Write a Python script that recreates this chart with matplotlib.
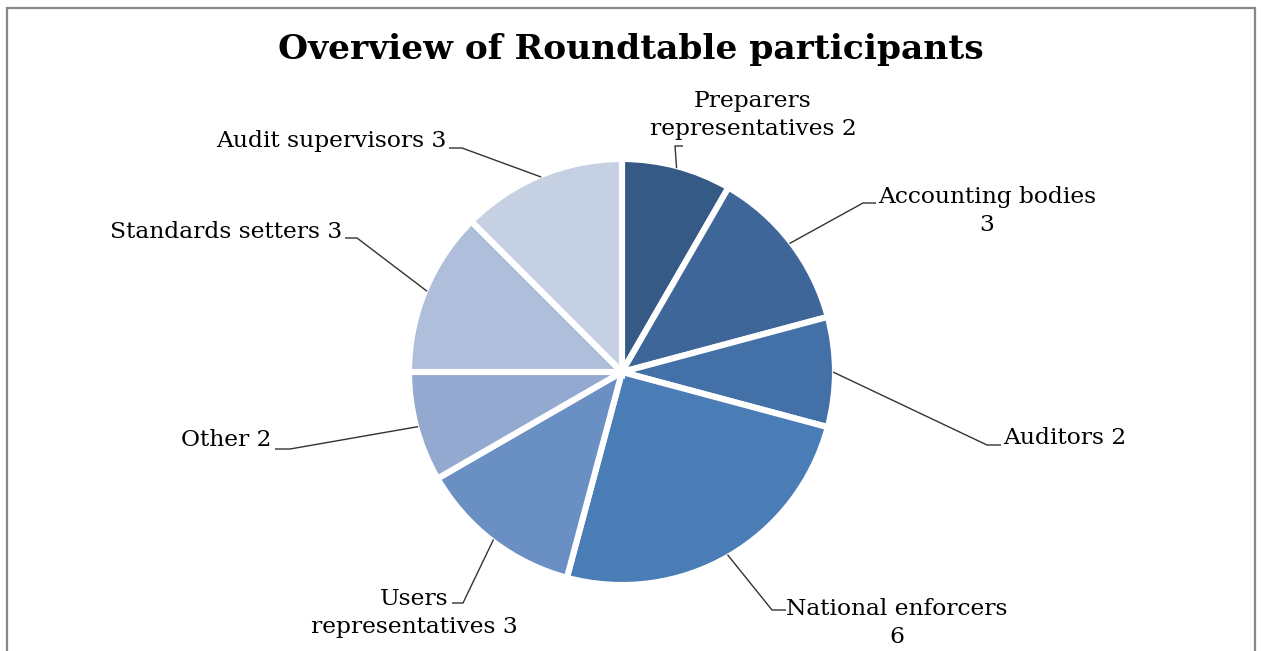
import matplotlib
matplotlib.use("Agg")
import matplotlib.pyplot as plt
import numpy as np
from matplotlib.patches import Rectangle

# ---- data ----
categories = ["Preparers representatives", "Accounting bodies", "Auditors",
              "National enforcers", "Users representatives", "Other",
              "Standards setters", "Audit supervisors"]
values = [2, 3, 2, 6, 3, 2, 3, 3]
label_texts = ["Preparers\nrepresentatives 2", "Accounting bodies\n3", "Auditors 2",
               "National enforcers\n6", "Users\nrepresentatives 3", "Other 2",
               "Standards setters 3", "Audit supervisors 3"]
title = "Overview of Roundtable participants"

colors = ["#365A86", "#3E6699", "#4371A7", "#4A7CB5",
          "#6A8FC2", "#94A9D0", "#AFBFDB", "#C6D0E3"]
explode = [0, 0, 0, 0.018, 0, 0, 0, 0]

W, H = 1261, 651
fig = plt.figure(figsize=(W / 100, H / 100), dpi=100)
ax = fig.add_axes([0, 0, 1, 1])

cx, cy, R = 622, H - 372, 213
wedges, _ = ax.pie(values, center=(cx, cy), radius=R, startangle=90,
                   counterclock=False, colors=colors, explode=explode,
                   wedgeprops=dict(edgecolor="white", linewidth=4.4))
ax.set_xlim(0, W)
ax.set_ylim(0, H)
ax.set_aspect("auto")
ax.axis("off")

FONT = "DejaVu Serif"
FS = 16.8

# label layout: (text x, text y, ha, elbow point, end point) in pixel coords (y down)
layout = [
    (753, 115, "center", (675, 146), (683, 146)),
    (987, 211, "center", (863, 203), (876, 203)),
    (1003, 438, "left", (987, 445), (1001, 445)),
    (897, 623, "center", (772, 610), (786, 610)),
    (414, 613, "center", (463, 603), (452, 603)),
    (271, 440, "right", (290, 449), (275, 449)),
    (342, 232, "right", (357, 238), (345, 238)),
    (447, 141, "right", (462, 148), (449, 148)),
]

for w, txt, (tx, ty, ha, elbow, end) in zip(wedges, label_texts, layout):
    mid = np.deg2rad((w.theta1 + w.theta2) / 2)
    wx, wy = w.center
    sx = wx + (w.r - 2) * np.cos(mid)
    sy = wy + (w.r - 2) * np.sin(mid)
    ax.plot([sx, elbow[0], end[0]], [sy, H - elbow[1], H - end[1]],
            color="#333333", lw=1.0, solid_capstyle="butt")
    ax.text(tx, H - ty, txt, ha=ha, va="center", multialignment="center",
            fontsize=FS, family=FONT, linespacing=1.4, color="black")

ax.text(631, H - 50, title, ha="center", va="center", fontsize=24.8,
        family=FONT, fontweight="bold", color="black")

# chart frame
fig.add_artist(Rectangle((7 / W, -0.05), (1255 - 7) / W, (H - 8) / H + 0.05,
                         transform=fig.transFigure, fill=False,
                         edgecolor="#888888", lw=1.6))

fig.savefig("out.png", dpi=100, facecolor="white")
